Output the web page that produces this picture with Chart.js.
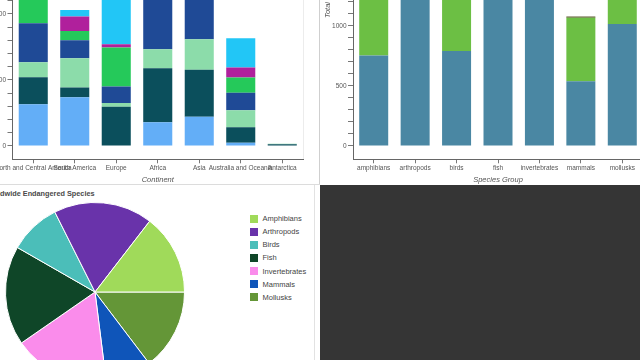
<!DOCTYPE html>
<html>
<head>
<meta charset="utf-8">
<script src="https://cdn.jsdelivr.net/npm/chart.js@4.4.1/dist/chart.umd.min.js"></script>
<style>
  html, body { margin: 0; padding: 0; }
  body {
    width: 640px; height: 360px; overflow: hidden; position: relative;
    background: #fff; font-family: "Liberation Sans", Arial, sans-serif;
  }
  canvas, .abs { position: absolute; }
  #dark { left: 320px; top: 185px; width: 320px; height: 175px; background: #353535; }
  #vline { left: 319px; top: 0; width: 1px; height: 185px; background: #cfcfcf; }
  #hline { left: 0; top: 184px; width: 320px; height: 1px; background: #dcdcdc; }
  #pieEdge { left: 314px; top: 185px; width: 1px; height: 175px; background: #e2e2e2; }
  #outline { left: 303px; top: 0; width: 1px; height: 160px; background: #ececec; }
  #pieTitle { left: -16px; top: 189px; font-size: 7.3px; font-weight: bold; color: #4a4a4a; white-space: nowrap; }
  .legText { font-size: 7.5px; color: #444; white-space: nowrap; line-height: 9px; }
</style>
</head>
<body>
<div id="outline" class="abs"></div>
<canvas id="continentChart" width="350" height="329" style="left:-40px; top:-145px;"></canvas>
<canvas id="groupChart" width="330" height="329" style="left:320px; top:-145px;"></canvas>
<div id="vline" class="abs"></div>
<div id="hline" class="abs"></div>
<div id="pieTitle" class="abs">Worldwide Endangered Species</div>
<canvas id="pieChart" width="180" height="180" style="left:5px; top:202px;"></canvas>
<div id="legend"></div>
<div id="pieEdge" class="abs"></div>
<div id="dark" class="abs"></div>

<script>
// top left: species per continent, stacked
const continents = ["North and Central America", "South America", "Europe", "Africa", "Asia", "Australia and Oceania", "Antarctica"];
const seriesNames = ["Amphibians", "Arthropods", "Birds", "Fish", "Invertebrates", "Mammals", "Mollusks"];
const lightBlueVals = [316, 369, 0, 179, 222, 25, 3];
const darkTealVals = [205, 73, 298, 409, 356, 116, 10];
const mintVals = [114, 222, 28, 144, 230, 129, 3];
const darkBlueVals = [295, 136, 124, 420, 400, 134, 0];
const greenVals = [220, 71, 295, 150, 200, 114, 0];
const magentaVals = [60, 109, 25, 60, 80, 76, 0];
const cyanVals = [120, 50, 450, 200, 250, 222, 0];
const continentColors = ["#63aef7", "#0b4f5c", "#8cdcaa", "#1f4a96", "#25c95a", "#b0209c", "#22c6f6"];

// top right: totals per species group
const speciesGroups = ["amphibians", "arthropods", "birds", "fish", "invertebrates", "mammals", "mollusks"];
const groupBase = [753, 1700, 792, 1800, 1700, 539, 1017];
const groupUpper = [1128, 613, 480, 520, 545, 530, 882];
const groupTop = [0, 0, 0, 0, 0, 10, 0];

// bottom left: pie
const pieLabels = ["Amphibians", "Arthropods", "Birds", "Fish", "Invertebrates", "Mammals", "Mollusks"];
const pieValues = [1881, 2313, 1205, 2320, 2245, 1079, 1899];
const pieColors = ["#a0da5a", "#6933aa", "#4bbeb9", "#0f4628", "#fa8ceb", "#0f55b9", "#649637"];

const FONT = "Liberation Sans, Arial, sans-serif";
const tickFont = { family: FONT, size: 6.5 };
const titleFont = { family: FONT, size: 7.5, style: "italic" };

function yAxis(min, max, width, titleText) {
  return {
    stacked: true,
    min: min,
    max: max,
    afterFit: (s) => { s.width = width; },
    border: { color: "#666", width: 1 },
    grid: {
      drawOnChartArea: false,
      tickLength: 5,
      tickColor: (c) => (c.tick && c.tick.value < 0 ? "rgba(0,0,0,0)" : "#777"),
    },
    ticks: {
      stepSize: 100,
      autoSkip: false,
      padding: 1.5,
      color: "#555",
      font: tickFont,
      callback: (v) => (v >= 0 && v % 500 === 0 ? String(v) : ""),
    },
    title: {
      display: !!titleText,
      text: titleText || "",
      color: "#555",
      font: titleFont,
      padding: { top: 3.5, bottom: 0 },
    },
  };
}

function xAxis(titleText) {
  return {
    stacked: true,
    afterFit: (s) => { s.height = 24.7; },
    border: { color: "#666", width: 1 },
    grid: { offset: false, drawOnChartArea: false, tickLength: 4, tickColor: "#777" },
    ticks: { autoSkip: false, maxRotation: 0, minRotation: 0, padding: 1.5, color: "#555", font: tickFont },
    title: { display: true, text: titleText, color: "#555", font: titleFont, padding: { top: 0, bottom: 0 } },
  };
}

const commonOpts = {
  responsive: false,
  animation: false,
  devicePixelRatio: 1,
  plugins: { legend: { display: false }, tooltip: { enabled: false } },
};

const continentSeries = [lightBlueVals, darkTealVals, mintVals, darkBlueVals, greenVals, magentaVals, cyanVals];

new Chart(document.getElementById("continentChart"), {
  type: "bar",
  data: {
    labels: continents,
    datasets: continentSeries.map((vals, i) => ({
      label: seriesNames[i],
      data: vals,
      backgroundColor: continentColors[i],
      borderWidth: 0,
      categoryPercentage: 0.7,
      barPercentage: 1.0,
    })),
  },
  options: {
    ...commonOpts,
    layout: { padding: { top: 5.7, right: 7, left: 0, bottom: 0 } },
    scales: { x: xAxis("Continent"), y: yAxis(-101, 2161, 52.5, "") },
  },
});

new Chart(document.getElementById("groupChart"), {
  type: "bar",
  data: {
    labels: speciesGroups,
    datasets: [
      { label: "base", data: groupBase, backgroundColor: "#4a87a3" },
      { label: "upper", data: groupUpper, backgroundColor: "#6cbf44" },
      { label: "top", data: groupTop, backgroundColor: "#5c5a2e" },
    ].map((d) => ({ ...d, borderWidth: 0, categoryPercentage: 0.7, barPercentage: 1.0 })),
  },
  options: {
    ...commonOpts,
    layout: { padding: { top: 5.7, right: 7, left: 0, bottom: 0 } },
    scales: { x: xAxis("Species Group"), y: yAxis(-111, 2377, 33, "Total") },
  },
});

// Bokeh draws wedges counter-clockwise from 3 o'clock; Chart.js goes clockwise,
// so feed the slices in reverse order starting at 3 o'clock.
new Chart(document.getElementById("pieChart"), {
  type: "pie",
  data: {
    labels: pieLabels.slice().reverse(),
    datasets: [{
      data: pieValues.slice().reverse(),
      backgroundColor: pieColors.slice().reverse(),
      borderColor: "#ffffff",
      borderWidth: 1,
    }],
  },
  options: {
    ...commonOpts,
    rotation: 90,
    layout: { padding: 0 },
  },
});

const legend = document.getElementById("legend");
pieLabels.forEach((name, i) => {
  const y = 214.5 + i * 13.05;
  const box = document.createElement("div");
  box.className = "abs";
  box.style.cssText = `left:250px;top:${y}px;width:8.3px;height:8.3px;background:${pieColors[i]};`;
  legend.appendChild(box);
  const txt = document.createElement("div");
  txt.className = "abs legText";
  txt.style.cssText = `left:262.5px;top:${y - 0.2}px;`;
  txt.textContent = name;
  legend.appendChild(txt);
});
</script>
</body>
</html>
